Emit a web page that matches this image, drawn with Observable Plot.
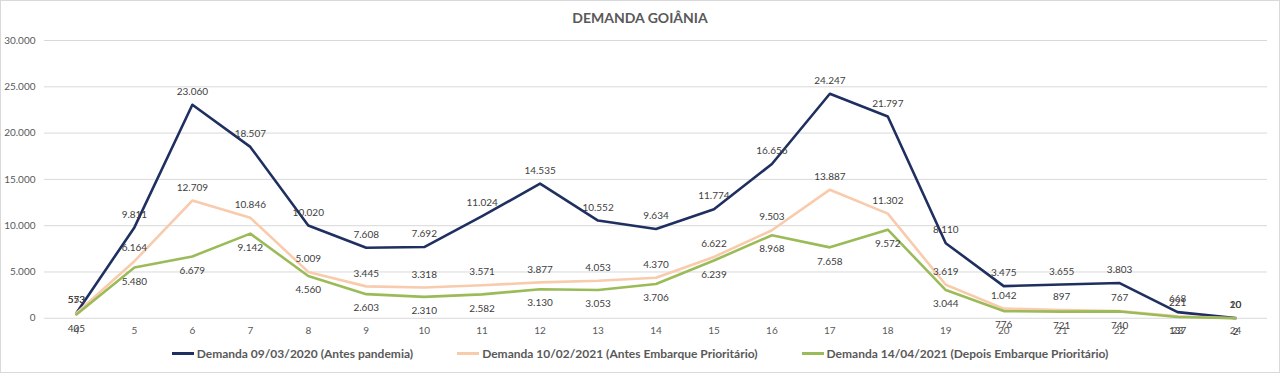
<!DOCTYPE html>
<html><head><meta charset="utf-8">
<script src="https://cdn.jsdelivr.net/npm/d3@7"></script>
<script src="https://cdn.jsdelivr.net/npm/@observablehq/plot@0.6"></script>
<style>
body{margin:0;background:#fff;font-family:Lato,"Open Sans",sans-serif;}
#wrap{width:1280px;height:373px;box-sizing:border-box;border:1px solid #d9d9d9;position:relative;overflow:hidden;background:#fff;}
#title{position:absolute;top:8px;left:0;width:100%;text-align:center;font-weight:bold;font-size:14px;color:#595959;}
#chart{position:absolute;top:31px;left:-1px;}
#legend{position:absolute;top:345px;left:0;width:100%;display:flex;justify-content:center;gap:44px;font-size:12px;font-weight:bold;color:#595959;}
.item{display:flex;align-items:center;}
.sw{width:22px;height:3px;margin-right:3px;}
</style></head>
<body>
<div id="wrap">
  <div id="title">DEMANDA GOIÂNIA</div>
  <div id="chart"></div>
  <div id="legend"></div>
</div>
<script>
const hours = [4,5,6,7,8,9,10,11,12,13,14,15,16,17,18,19,20,21,22,23,24];
const seriesNames = [
  "Demanda 09/03/2020 (Antes pandemia)",
  "Demanda 10/02/2021 (Antes Embarque Prioritário)",
  "Demanda 14/04/2021 (Depois Embarque Prioritário)"
];
const seriesColors = ["#1f3060", "#f8cbad", "#9bbb59"];
const demanda2020 = [573,9811,23060,18507,10020,7608,7692,11024,14535,10552,9634,11774,16656,24247,21797,8110,3475,3655,3803,668,20];
const demanda2021fev = [553,6164,12709,10846,5009,3445,3318,3571,3877,4053,4370,6622,9503,13887,11302,3619,1042,897,767,221,10];
const demanda2021abr = [405,5480,6679,9142,4560,2603,2310,2582,3130,3053,3706,6239,8968,7658,9572,3044,776,721,740,137,2];
const yTicks = [0,5000,10000,15000,20000,25000,30000];
const labelOffsets = [-13, -13, 14];

const allValues = [demanda2020, demanda2021fev, demanda2021abr];
const data = [];
allValues.forEach((vals, si) => {
  vals.forEach((v, i) => data.push({series: seriesNames[si], idx: si, hour: String(hours[i]), value: v}));
});

const loc = d3.formatLocale({decimal: ",", thousands: ".", grouping: [3], currency: ["R$", ""]});
const fmt = loc.format(",d");

const plot = Plot.plot({
  width: 1280,
  height: 311,
  marginTop: 8,
  marginBottom: 25,
  marginLeft: 44,
  marginRight: 12,
  style: {fontFamily: "Lato, 'Open Sans', sans-serif", fontSize: "10px", color: "#595959", background: "transparent"},
  x: {type: "point", domain: hours.map(String), padding: 0.5, label: null},
  y: {domain: [0, 30000], label: null},
  color: {domain: seriesNames, range: seriesColors},
  marks: [
    Plot.gridY(yTicks, {stroke: "#d9d9d9", strokeOpacity: 1, strokeWidth: 1}),
    Plot.axisY(yTicks, {tickSize: 0, tickPadding: 9, tickFormat: fmt, fontSize: 10, label: null}),
    Plot.axisX({tickSize: 0, tickPadding: 9, fontSize: 10, label: null}),
    Plot.line(data, {x: "hour", y: "value", z: "series", stroke: "series", strokeWidth: 2.6, strokeLinejoin: "round", curve: "linear"}),
    ...[0,1,2].map(si => Plot.text(data.filter(d => d.idx === si), {
      x: "hour", y: "value", text: d => fmt(d.value), dy: labelOffsets[si], fill: "#404040", fontSize: 10
    }))
  ]
});
document.getElementById("chart").appendChild(plot);

const legend = document.getElementById("legend");
seriesNames.forEach((name, i) => {
  const item = document.createElement("div");
  item.className = "item";
  const sw = document.createElement("span");
  sw.className = "sw";
  sw.style.background = seriesColors[i];
  const t = document.createElement("span");
  t.textContent = name;
  item.appendChild(sw);
  item.appendChild(t);
  legend.appendChild(item);
});
</script>
</body></html>
